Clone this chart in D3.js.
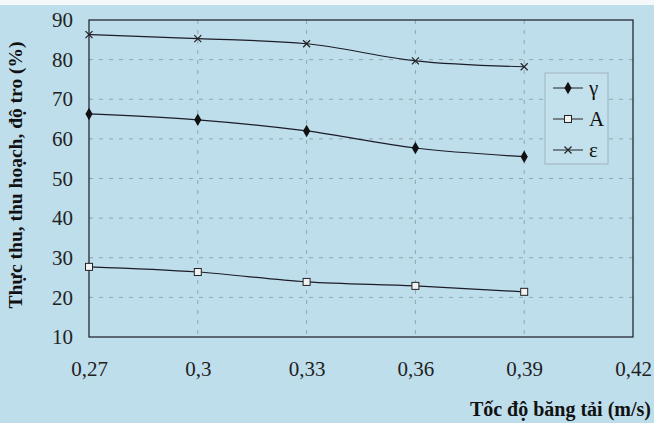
<!DOCTYPE html>
<html><head><meta charset="utf-8">
<script src="https://cdn.jsdelivr.net/npm/d3@7"></script>
<style>html,body{margin:0;padding:0;background:#fff;}svg{display:block;}</style>
</head><body>
<svg id="c" width="654" height="423"></svg>
<script>
const speeds = [0.27, 0.30, 0.33, 0.36, 0.39];
const gamma = [66.3, 64.8, 62.0, 57.7, 55.5];
const ash = [27.7, 26.4, 23.9, 22.9, 21.4];
const epsilon = [86.3, 85.3, 84.0, 79.7, 78.2];
const xTicks = [0.27, 0.30, 0.33, 0.36, 0.39, 0.42];
const xTickLabels = ["0,27", "0,3", "0,33", "0,36", "0,39", "0,42"];
const yTicks = [10, 20, 30, 40, 50, 60, 70, 80, 90];
const seriesNames = ["γ", "A", "ε"];

const svg = d3.select("#c");
const W = 654, H = 423;
svg.append("rect").attr("x", 0).attr("y", 0).attr("width", W).attr("height", H).attr("fill", "#bfdeec");
svg.append("rect").attr("x", 0).attr("y", 0).attr("width", W).attr("height", 5).attr("fill", "#f4f8fa");

const x = d3.scaleLinear().domain([0.27, 0.42]).range([89, 633]);
const y = d3.scaleLinear().domain([10, 90]).range([337, 20]);
const serif = "'Liberation Serif','DejaVu Serif',serif";

// grid
const g = svg.append("g");
g.selectAll(".vg").data(xTicks.slice(1, -1)).enter().append("line")
  .attr("x1", d => x(d)).attr("x2", d => x(d)).attr("y1", y(90)).attr("y2", y(10))
  .attr("stroke", "#8597a1").attr("stroke-width", 0.8).attr("stroke-dasharray", "4,6");
g.selectAll(".hg").data(yTicks.slice(1, -1)).enter().append("line")
  .attr("x1", x(0.27)).attr("x2", x(0.42)).attr("y1", d => y(d)).attr("y2", d => y(d))
  .attr("stroke", "#8597a1").attr("stroke-width", 0.8).attr("stroke-dasharray", "4,6");

// frame
svg.append("rect").attr("x", x(0.27)).attr("y", y(90)).attr("width", x(0.42) - x(0.27)).attr("height", y(10) - y(90))
  .attr("fill", "none").attr("stroke", "#1a1a24").attr("stroke-width", 1.2);

// axes (labels only)
const xAxis = d3.axisBottom(x).tickValues(xTicks).tickFormat((d, i) => xTickLabels[i]).tickSize(0).tickPadding(24);
const xa = svg.append("g").attr("transform", `translate(0,${y(10)})`).attr("font-family", serif).call(xAxis);
xa.select(".domain").remove();
xa.selectAll("text").attr("font-family", serif).attr("font-size", 21).attr("fill", "#222");

const yAxis = d3.axisLeft(y).tickValues(yTicks).tickSize(0).tickPadding(16);
const ya = svg.append("g").attr("transform", `translate(${x(0.27)},0)`).attr("font-family", serif).call(yAxis);
ya.select(".domain").remove();
ya.selectAll("text").attr("font-family", serif).attr("font-size", 21).attr("fill", "#222");

// lines
const line = d3.line().x(d => x(d[0])).y(d => y(d[1])).curve(d3.curveMonotoneX);
const data = [gamma, ash, epsilon].map(arr => speeds.map((s, i) => [s, arr[i]]));
data.forEach(pts => {
  svg.append("path").datum(pts).attr("d", line).attr("fill", "none").attr("stroke", "#1c1c28").attr("stroke-width", 1.2);
});

function marker(sel, type, cx, cy) {
  if (type === 0) {
    sel.append("path").attr("d", d3.symbol(d3.symbolDiamond, 45)()).attr("transform", `translate(${cx},${cy})`).attr("fill", "#111");
  } else if (type === 1) {
    sel.append("rect").attr("x", cx - 3.5).attr("y", cy - 3.5).attr("width", 7).attr("height", 7)
      .attr("fill", "#f2f2f2").attr("stroke", "#222").attr("stroke-width", 1);
  } else {
    sel.append("path").attr("d", `M${cx-3.5},${cy-3.5}L${cx+3.5},${cy+3.5}M${cx-3.5},${cy+3.5}L${cx+3.5},${cy-3.5}`)
      .attr("stroke", "#222").attr("stroke-width", 1.2);
  }
}
data.forEach((pts, k) => {
  const mg = svg.append("g");
  pts.forEach(p => marker(mg, k, x(p[0]), y(p[1])));
});

// legend
const lg = svg.append("g");
lg.append("rect").attr("x", 545).attr("y", 73).attr("width", 63).attr("height", 91)
  .attr("fill", "#c3e0ed").attr("stroke", "#9aaab2").attr("stroke-width", 0.8);
const ly = [88, 119, 150];
seriesNames.forEach((n, i) => {
  const sy = ly[i];
  lg.append("line").attr("x1", 553).attr("x2", 583).attr("y1", sy).attr("y2", sy).attr("stroke", "#222").attr("stroke-width", 1);
  marker(lg, i, 568, sy);
  lg.append("text").attr("x", 589).attr("y", sy + 7).text(n)
    .attr("font-family", serif).attr("font-size", 21).attr("fill", "#111");
});

// titles
svg.append("text").attr("transform", `translate(22,175) rotate(-90)`).attr("text-anchor", "middle")
  .attr("font-family", serif).attr("font-weight", "bold").attr("font-size", 19.5).attr("fill", "#111")
  .text("Thực thu, thu hoạch, độ tro (%)");
svg.append("text").attr("x", 651).attr("y", 416).attr("text-anchor", "end")
  .attr("font-family", serif).attr("font-weight", "bold").attr("font-size", 20).attr("fill", "#111")
  .text("Tốc độ băng tải (m/s)");
</script>
</body></html>
